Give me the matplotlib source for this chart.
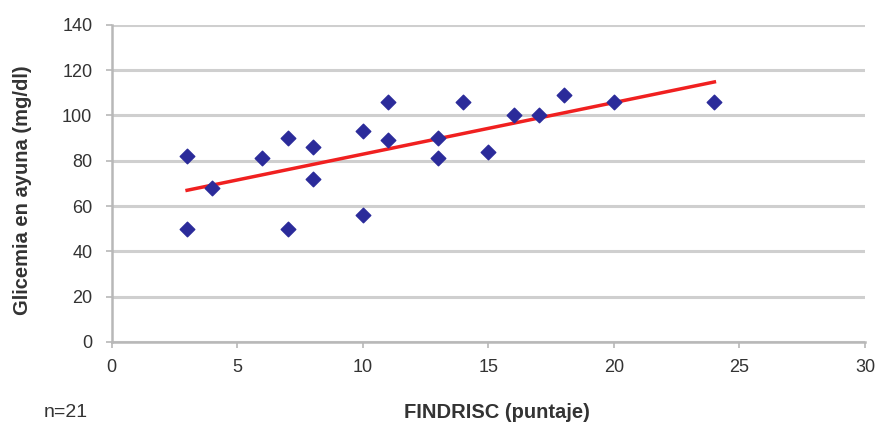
import numpy as np
import matplotlib.pyplot as plt

plt.rcParams['font.family'] = ['Liberation Sans', 'DejaVu Sans']

# FINDRISC score vs fasting glucose
findrisc = [3, 3, 4, 6, 7, 7, 8, 8, 10, 10, 11, 11, 13, 13, 14, 15, 16, 17, 18, 20, 24]
glucemia = [82, 50, 68, 81, 90, 50, 86, 72, 93, 56, 106, 89, 90, 81, 106, 84, 100, 100, 109, 106, 106]

xticks = [0, 5, 10, 15, 20, 25, 30]
yticks = [0, 20, 40, 60, 80, 100, 120, 140]

fig = plt.figure(figsize=(8.8, 4.3), dpi=100)
ax = fig.add_axes([0.127, 0.205, 0.856, 0.737])

ax.grid(axis='y', color='#cfcfcf', lw=2.2)
ax.set_axisbelow(True)
ax.scatter(findrisc, glucemia, marker='D', s=55, color='#2b2b9a', zorder=3)

# linear trend line
m, b = np.polyfit(findrisc, glucemia, 1)
xl = np.array([min(findrisc), max(findrisc)])
ax.plot(xl, m * xl + b, color='#f02020', lw=2.5, zorder=2)

ax.set_xlim(0, 30)
ax.set_ylim(0, 140)
ax.set_xticks(xticks)
ax.set_yticks(yticks)
for s in ['top', 'right']:
    ax.spines[s].set_visible(False)
for s in ['left', 'bottom']:
    ax.spines[s].set_color('#b8b8b8')
    ax.spines[s].set_linewidth(1.8)
ax.tick_params(colors='#b8b8b8', labelcolor='#333333', labelsize=13, length=4, width=1.2)
ax.tick_params(axis='y', pad=10)
ax.tick_params(axis='x', pad=8)

ax.set_xlabel('FINDRISC (puntaje)', fontsize=14.5, fontweight='bold', color='#333333', va='center')
ax.xaxis.set_label_coords(0.511, -0.224)
ax.set_ylabel('Glicemia en ayuna (mg/dl)', fontsize=14.5, fontweight='bold', color='#333333', va='center')
ax.yaxis.set_label_coords(-0.118, 0.48)
fig.text(0.05, 0.04, 'n=21', fontsize=14, color='#333333', va='center')

fig.savefig('out.png', dpi=100)
